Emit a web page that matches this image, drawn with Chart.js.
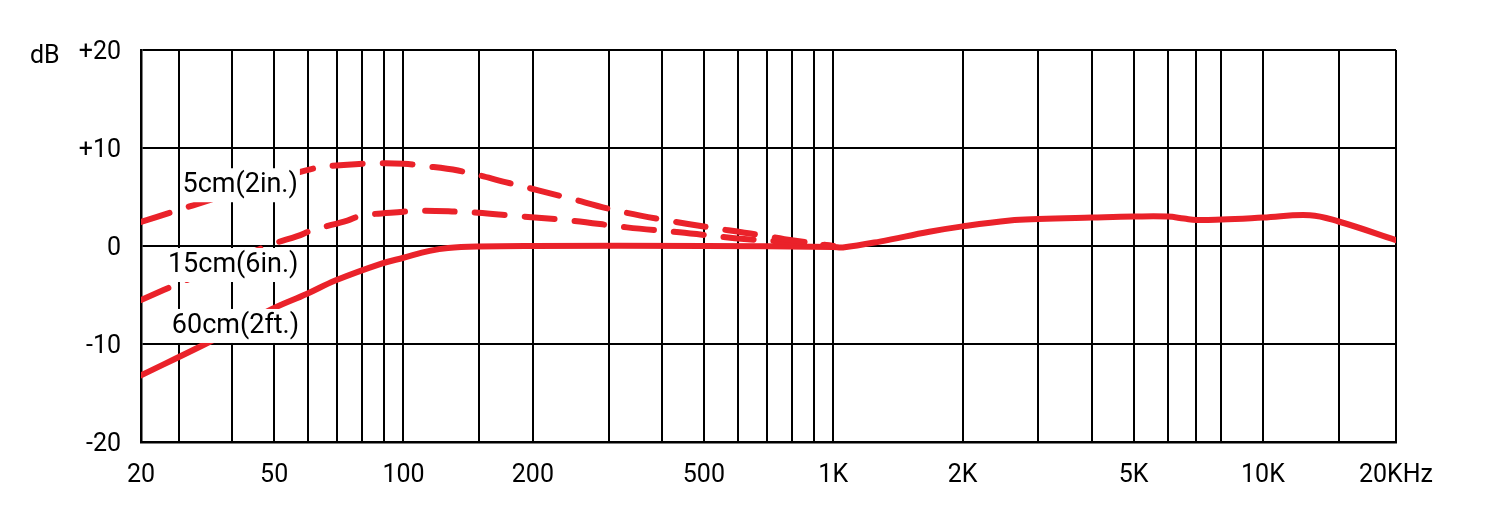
<!DOCTYPE html>
<html>
<head>
<meta charset="utf-8">
<script src="https://cdn.jsdelivr.net/npm/chart.js@4/dist/chart.umd.min.js"></script>
<style>
  html, body { margin: 0; padding: 0; background: #fff; }
  #wrap { width: 1503px; height: 506px; position: relative; }
</style>
</head>
<body>
<div id="wrap"><canvas id="chart"></canvas></div>
<script>
// Frequency axis edges (left edge is labelled "20", right edge "20KHz")
const X_MIN = 24.5;
const X_MAX = 20400;

// vertical grid lines (Hz)
const gridFreqs = [30, 40, 50, 60, 70, 80, 90, 100, 150, 200, 300, 400, 500, 600, 700, 800, 900,
  1000, 2000, 3000, 4000, 5000, 6000, 7000, 8000, 10000, 15000];

// tick labels shown under the axis
const tickValues = [X_MIN, 50, 100, 200, 500, 1000, 2000, 5000, 10000, X_MAX];
const tickLabels = ['20', '50', '100', '200', '500', '1K', '2K', '5K', '10K', '20KHz'];

const dbTicks = [-20, -10, 0, 10, 20];

// 5cm (2in.)
const freq5cm = [24.5, 28.6, 36.7, 47.6, 61, 74, 88, 100, 110, 134, 177, 237, 314, 425, 570, 680, 770, 1000];
const db5cm   = [2.45, 3.4, 4.9, 6.4, 7.85, 8.3, 8.45, 8.4, 8.2, 7.7, 6.4, 5.0, 3.6, 2.5, 1.6, 1.1, 0.7, 0];

// 15cm (6in.)
const freq15cm = [24.5, 31.2, 39.3, 49.6, 56.6, 61.3, 74, 80, 100, 110, 134, 149, 179, 245, 331, 439, 590, 792, 1000];
const db15cm   = [-5.5, -3.5, -1.6, 0.2, 1.0, 1.6, 2.6, 3.1, 3.5, 3.6, 3.5, 3.4, 3.1, 2.6, 1.9, 1.4, 0.8, 0.4, 0];

// 60cm (2ft.)
const freq60cm = [24.5, 34.6, 41.6, 49.6, 59.5, 69.6, 88.9, 100, 115, 127, 150, 200, 500, 1000, 1053, 1283,
  1673, 2000, 2577, 3000, 4000, 5000, 6000, 6550, 7000, 8000, 10000, 12860, 15000, X_MAX];
const db60cm   = [-13.2, -10, -8.2, -6.4, -4.9, -3.5, -1.8, -1.2, -0.5, -0.2, -0.05, 0, 0, -0.1, -0.15, 0.45,
  1.45, 2.0, 2.6, 2.75, 2.9, 3.0, 3.0, 2.8, 2.65, 2.7, 2.9, 3.15, 2.5, 0.6];

// curve labels, anchored in data units (left edge freq, centre dB)
const curveLabels = [
  { text: '5cm(2in.)', freq: 30.6, db: 6.2 },
  { text: '15cm(6in.)', freq: 28.3, db: -1.94 },
  { text: '60cm(2ft.)', freq: 28.9, db: -8.16 },
];

const RED = 'rgb(234, 34, 42)';
const FONT = 'Roboto, "Noto Sans", sans-serif';

const toXY = (xs, ys) => xs.map((x, i) => ({ x: x, y: ys[i] }));

const labelPlugin = {
  id: 'curveLabels',
  afterDatasetsDraw(chart) {
    const { ctx, scales } = chart;
    ctx.save();
    ctx.textBaseline = 'middle';
    ctx.textAlign = 'left';
    ctx.font = '27px ' + FONT;
    curveLabels.forEach(l => {
      const x = scales.x.getPixelForValue(l.freq);
      const y = scales.y.getPixelForValue(l.db);
      const w = ctx.measureText(l.text).width;
      ctx.fillStyle = '#fff';
      ctx.fillRect(x - 2, y - 17, w + 4, 34);
      ctx.fillStyle = '#000';
      ctx.fillText(l.text, x, y);
    });
    // "dB" beside the top tick
    ctx.font = '25px ' + FONT;
    ctx.fillText('dB', 30, scales.y.getPixelForValue(20) + 7);
    ctx.restore();
  }
};

new Chart(document.getElementById('chart'), {
  type: 'line',
  data: {
    datasets: [
      {
        label: '5cm(2in.)',
        data: toXY(freq5cm, db5cm),
        borderColor: RED,
        borderWidth: 6,
        borderDash: [30, 20],
        borderCapStyle: 'round',
        tension: 0.4,
        pointRadius: 0,
        fill: false,
      },
      {
        label: '15cm(6in.)',
        data: toXY(freq15cm, db15cm),
        borderColor: RED,
        borderWidth: 6,
        borderDash: [30, 20],
        borderCapStyle: 'round',
        tension: 0.4,
        pointRadius: 0,
        fill: false,
      },
      {
        label: '60cm(2ft.)',
        data: toXY(freq60cm, db60cm),
        borderColor: RED,
        borderWidth: 6,
        borderCapStyle: 'round',
        tension: 0.4,
        pointRadius: 0,
        fill: false,
      },
    ],
  },
  options: {
    responsive: true,
    maintainAspectRatio: false,
    animation: false,
    layout: { padding: { left: 0, right: 107, top: 50, bottom: 0 } },
    plugins: {
      legend: { display: false },
      tooltip: { enabled: false },
    },
    scales: {
      x: {
        type: 'logarithmic',
        min: X_MIN,
        max: X_MAX,
        afterBuildTicks: (scale) => {
          scale.ticks = [X_MIN, ...gridFreqs, X_MAX].map(v => ({ value: v }));
        },
        afterFit: (scale) => { scale.height = 64; },
        ticks: {
          autoSkip: false,
          maxRotation: 0,
          minRotation: 0,
          padding: 19,
          color: '#000',
          font: { family: FONT, size: 25 },
          callback: (value) => {
            const i = tickValues.indexOf(value);
            return i >= 0 ? tickLabels[i] : '';
          },
        },
        grid: { color: '#000', lineWidth: 2, drawTicks: false },
        border: { color: '#000', width: 2.5 },
      },
      y: {
        min: -20,
        max: 20,
        afterBuildTicks: (scale) => {
          scale.ticks = dbTicks.map(v => ({ value: v }));
        },
        afterFit: (scale) => { scale.width = 141; },
        ticks: {
          padding: 20,
          labelOffset: 3,
          color: '#000',
          font: { family: FONT, size: 25 },
          callback: (v) => (v > 0 ? '+' + v : String(v)),
        },
        grid: { color: '#000', lineWidth: 2, drawTicks: false },
        border: { color: '#000', width: 2.5 },
      },
    },
  },
  plugins: [labelPlugin],
});
</script>
</body>
</html>
